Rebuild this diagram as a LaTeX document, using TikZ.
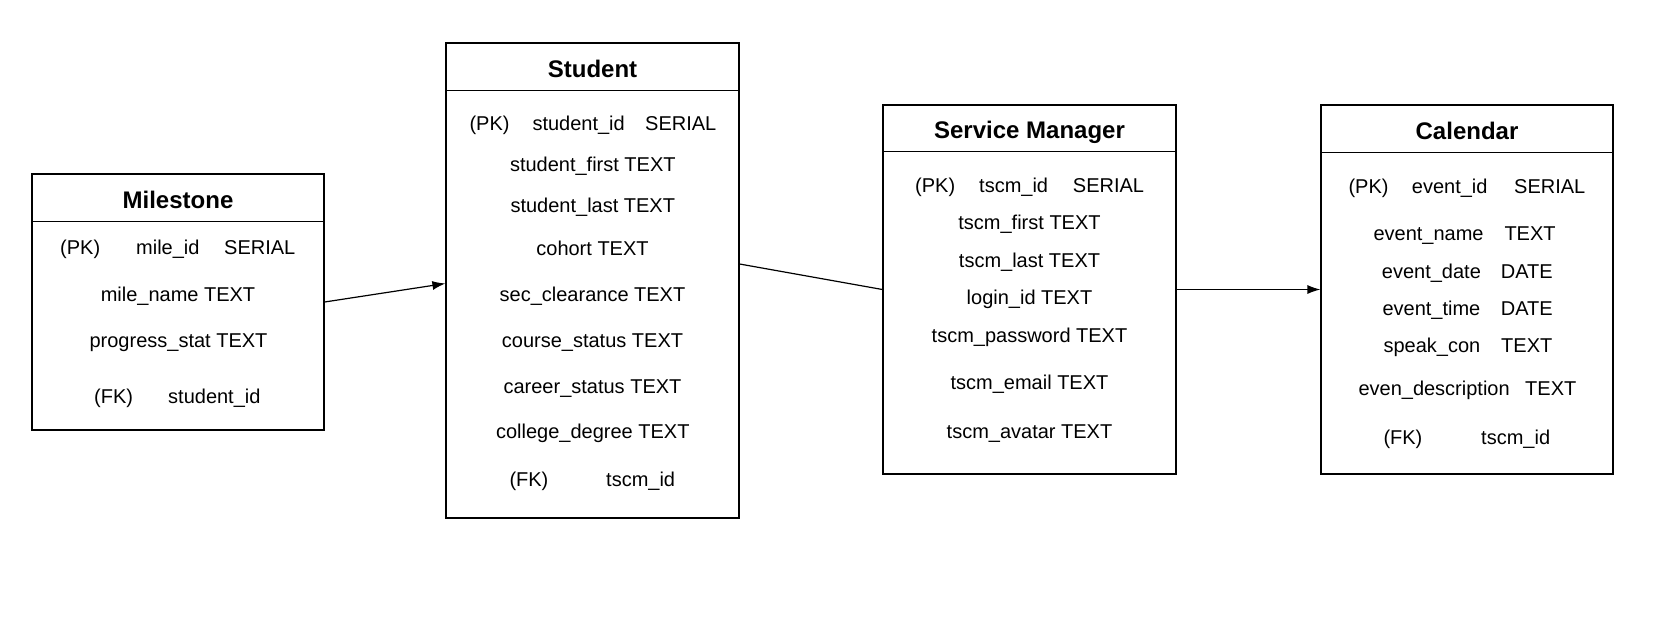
\documentclass[tikz,border=0pt]{standalone}
\usepackage{fontspec}
\setmainfont{Liberation Sans}
\usetikzlibrary{arrows.meta,calc}
\begin{document}
\begin{tikzpicture}[x=1pt,y=-1pt,
  entity/.style={draw=black, fill=white, line width=1.2pt, inner sep=0pt},
  hline/.style={draw=black, line width=1.2pt},
  ttl/.style={font=\fontsize{24}{28}\selectfont\bfseries, anchor=base, inner sep=0pt},
  fld/.style={font=\fontsize{20}{24}\selectfont, anchor=base, inner sep=0pt},
  fldw/.style={font=\fontsize{20}{24}\selectfont, anchor=base west, inner sep=0pt},
  rel/.style={draw=black, line width=1.2pt},
  relarrow/.style={rel, -{Latex[length=13pt,width=9pt]}}
]
\useasboundingbox (0,0) rectangle (1669,630);

% ---------- entity boxes ----------
\node[entity, minimum width=292pt, minimum height=256pt] (mile) at (178,302) {};
\node[entity, minimum width=293pt, minimum height=475pt] (stud) at (592.5,280.5) {};
\node[entity, minimum width=293pt, minimum height=369pt] (sm) at (1029.5,289.5) {};
\node[entity, minimum width=292pt, minimum height=369pt] (cal) at (1467,289.5) {};

\draw[hline] ($(mile.north west)+(0,48)$) -- ($(mile.north east)+(0,48)$);
\draw[hline] ($(stud.north west)+(0,48)$) -- ($(stud.north east)+(0,48)$);
\draw[hline] ($(sm.north west)+(0,47)$) -- ($(sm.north east)+(0,47)$);
\draw[hline] ($(cal.north west)+(0,48)$) -- ($(cal.north east)+(0,48)$);

% ---------- Milestone ----------
\node[ttl] (mt) at (178,208) {Milestone};
\node[fldw] (m1a) at (60,254.5) {(PK)};
\node[fldw] (m1b) at (136,254.5) {mile\_id};
\node[fldw] (m1c) at (224,254.5) {SERIAL};
\node[fld] (m2) at (178,301.5) {mile\_name TEXT};
\node[fld] (m3) at (178.5,347) {progress\_stat TEXT};
\node[fldw] (m4a) at (94,403) {(FK)};
\node[fldw] (m4b) at (168,403) {student\_id};

% ---------- Student ----------
\node[ttl] (st) at (592.5,77) {Student};
\node[fldw] (s1a) at (469.3,130.5) {(PK)};
\node[fldw] (s1b) at (532.3,130.5) {student\_id};
\node[fldw] (s1c) at (645,130.5) {SERIAL};
\node[fld] (s2) at (592.8,171.5) {student\_first TEXT};
\node[fld] (s3) at (592.8,212.2) {student\_last TEXT};
\node[fld] (s4) at (592.5,255.5) {cohort TEXT};
\node[fld] (s5) at (592.5,301.5) {sec\_clearance TEXT};
\node[fld] (s6) at (592.5,347.2) {course\_status TEXT};
\node[fld] (s7) at (592.5,393) {career\_status TEXT};
\node[fld] (s8) at (592.8,438.2) {college\_degree TEXT};
\node[fldw] (s9a) at (509.3,486) {(FK)};
\node[fldw] (s9b) at (606,486) {tscm\_id};

% ---------- Service Manager ----------
\node[ttl] (smt) at (1029.5,138.6) {Service Manager};
\node[fldw] (v1a) at (915,192.2) {(PK)};
\node[fldw] (v1b) at (979,192.2) {tscm\_id};
\node[fldw] (v1c) at (1072.7,192.2) {SERIAL};
\node[fld] (v2) at (1029.5,229.5) {tscm\_first TEXT};
\node[fld] (v3) at (1029.5,267.2) {tscm\_last TEXT};
\node[fld] (v4) at (1029.5,304) {login\_id TEXT};
\node[fld] (v5) at (1029.5,342.2) {tscm\_password TEXT};
\node[fld] (v6) at (1029.5,389) {tscm\_email TEXT};
\node[fld] (v7) at (1029.5,438.2) {tscm\_avatar TEXT};

% ---------- Calendar ----------
\node[ttl] (ct) at (1467,139.6) {Calendar};
\node[fldw] (c1a) at (1348.3,193) {(PK)};
\node[fldw] (c1b) at (1411.7,193) {event\_id};
\node[fldw] (c1c) at (1514,193) {SERIAL};
\node[fldw] (c2a) at (1373.3,240.5) {event\_name};
\node[fldw] (c2b) at (1504.3,240.5) {TEXT};
\node[fldw] (c3a) at (1381.7,278) {event\_date};
\node[fldw] (c3b) at (1500.7,278) {DATE};
\node[fldw] (c4a) at (1382.3,315.5) {event\_time};
\node[fldw] (c4b) at (1500.7,315.5) {DATE};
\node[fldw] (c5a) at (1383.3,352.2) {speak\_con};
\node[fldw] (c5b) at (1501,352.2) {TEXT};
\node[fldw] (c6a) at (1358.3,395) {even\_description};
\node[fldw] (c6b) at (1525,395) {TEXT};
\node[fldw] (c7a) at (1383.3,444) {(FK)};
\node[fldw] (c7b) at (1481,444) {tscm\_id};

% ---------- connectors ----------
\draw[relarrow] (mile.east) -- ($(stud.west)+(0,3)$);
\draw[rel] ($(stud.east)+(0,-16.5)$) -- (sm.west);
\draw[relarrow] (sm.east) -- (cal.west);
\end{tikzpicture}
\end{document}
